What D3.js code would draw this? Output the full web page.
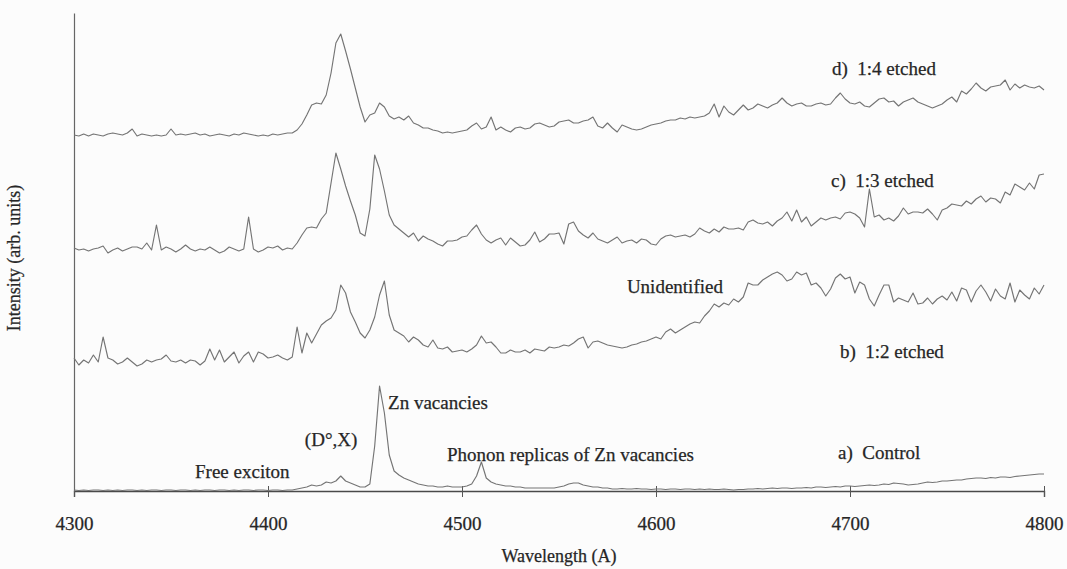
<!DOCTYPE html>
<html>
<head>
<meta charset="utf-8">
<script src="https://cdn.jsdelivr.net/npm/d3@7"></script>
<style>
  html, body { margin: 0; padding: 0; background: #fcfcfc; }
  svg { display: block; }
  text { font-family: "Liberation Serif", "DejaVu Serif", "Times New Roman", serif; fill: #262626; stroke: #262626; stroke-width: 0.25px; }
</style>
</head>
<body>
<svg id="chart" width="1067" height="569"></svg>
<script>
// Photoluminescence spectra, 4300–4800 Å, sampled every 2.5 Å.
// Curves are stacked with a vertical offset (arbitrary units).
const wlStart = 4300;
const wlStep = 2.5;
const xTicks = [4300, 4400, 4500, 4600, 4700, 4800];

// d) 1:4 etched
const etched14 = [
  356,355,357,355,357,356,355,357,358,357,
  356,358,362,355,357,356,355,356,355,356,
  362,356,357,356,357,358,356,357,355,356,
  357,356,355,357,356,358,357,356,355,356,
  355,357,356,357,358,358,361,367,376,386,
  388,387,396,418,448,457,440,422,403,384,
  369,376,378,388,384,375,372,374,371,375,
  368,366,363,363,361,360,358,359,358,359,
  360,361,365,368,362,364,374,361,364,361,
  359,363,364,362,363,367,368,366,364,365,
  369,370,371,368,368,370,371,374,365,363,
  368,363,359,366,364,362,361,362,364,366,
  367,368,370,371,371,373,372,374,373,374,
  375,378,387,374,385,379,376,381,386,381,
  383,387,385,383,386,388,393,388,385,387,
  388,385,385,387,388,386,387,393,398,392,
  388,387,389,385,384,388,392,393,389,390,
  385,389,391,393,389,387,385,383,385,387,
  391,394,389,400,397,402,408,403,400,404,
  405,406,411,401,407,403,406,404,403,405,
  401
];

// c) 1:3 etched
const etched13 = [
  243,241,242,240,242,243,245,238,241,243,
  240,242,244,244,242,248,241,266,241,244,
  242,239,242,246,242,240,242,241,244,241,
  238,240,244,242,240,242,274,242,239,241,
  244,243,245,241,243,242,248,256,263,264,
  263,272,278,308,338,322,305,290,276,258,
  255,282,336,322,300,276,266,262,258,254,
  258,250,255,252,250,247,245,250,250,251,
  254,255,261,266,257,251,248,251,253,246,
  253,249,245,246,251,259,249,252,257,257,
  258,247,267,269,260,256,253,258,252,250,
  248,251,254,248,250,251,248,252,251,247,
  246,252,255,256,254,255,256,254,257,263,
  260,258,262,259,264,262,262,263,261,269,
  271,268,267,269,265,270,273,279,270,281,
  269,274,265,269,273,271,273,274,272,278,
  279,277,273,264,302,274,276,271,273,270,
  275,283,277,279,279,278,282,277,271,281,
  283,287,286,285,290,287,292,295,289,293,
  292,288,299,296,307,304,301,308,302,316,
  317
];

// b) 1:2 etched
const etched12 = [
  133,126,131,128,136,129,154,133,131,127,
  129,133,129,125,127,131,129,131,132,136,
  130,129,131,128,131,130,126,130,142,131,
  141,129,134,139,128,135,139,129,139,137,
  133,134,136,133,131,134,164,138,158,148,
  157,166,170,173,181,206,198,179,169,158,
  153,161,174,196,210,176,161,158,155,149,
  154,151,146,144,151,143,142,144,139,140,
  141,139,142,146,155,148,149,144,138,138,
  141,139,139,141,138,142,141,140,144,143,
  144,146,145,148,152,154,143,149,150,148,
  146,145,144,143,144,146,147,149,150,152,
  154,152,159,162,158,161,164,167,169,168,
  175,180,187,184,188,186,192,189,194,208,
  206,206,211,214,217,219,216,210,212,219,
  216,218,206,208,203,195,202,213,217,212,
  214,198,209,206,192,185,196,206,206,189,
  193,191,189,198,187,188,193,187,192,195,
  191,199,190,203,201,189,200,206,199,190,
  202,195,192,208,189,201,196,192,203,197,
  206
];

// a) Control
const control = [
  1,0.5,1,0.5,1,1,0.5,1,0.5,1,
  0.5,1,1,0.5,1,0.5,1,1,0.5,1,
  1,0.5,1,1,0.5,1,0.5,1,1,0.5,
  1,1,0.5,1,0.5,1,1,0.5,1,1,
  0.5,1,1,0.5,1,1,2,3,4,6,
  5,6,9,8,10,15,10,8,6,4,
  4,7,45,105,78,36,20,16,13,11,
  9,7,6,5,5,4,4,5,4,4,
  4,5,7,15,29,13,9,7,6,5,
  5,4,4,3,3,3,3,3,3,3,
  4,5,7,8,8,6,5,4,4,3,
  3,2,2,2.5,2,2,2.5,2,2,1.5,
  2,2,1.5,2,2,1.5,2,2,1.5,2,
  1.5,2,1.5,1.5,2,1.5,1,1.5,1.5,2,
  2,2.5,2,2.5,3,2.5,3,3,2.5,3,
  3,3.5,3,4,4,3.5,4,4.5,4,5,
  5,4.5,5,5.5,6,5.5,6,7,6.5,8,
  7.5,7,6,6.5,7,8,9,8.5,9,10,
  10,10.5,11,11,12,12.5,13,13,12.5,13.5,
  13,14,14,13.5,14.5,15,15.5,16,16.5,17,
  17
];

// Curve labels and peak annotations: [text, wavelength, intensity]
const labels = [
  ["d)\u00A0\u00A01:4 etched", 4690.7, 416],
  ["c)\u00A0\u00A01:3 etched", 4690.2, 304],
  ["Unidentified", 4585, 198],
  ["b)\u00A0\u00A01:2 etched", 4694.8, 133],
  ["a)\u00A0\u00A0Control", 4693.8, 32],
  ["Zn vacancies", 4461.9, 82],
  ["(D\u00B0,X)", 4419, 45],
  ["Free exciton", 4362.4, 13],
  ["Phonon replicas of Zn vacancies", 4492.3, 30]
];

const svg = d3.select("#chart");
const x = d3.scaleLinear().domain([4300, 4800]).range([74, 1044]);
const y = d3.scaleLinear().domain([0, 478]).range([491, 13]);

const toPoints = arr => arr.map((v, i) => [wlStart + i * wlStep, v]);
const line = d3.line().x(d => x(d[0])).y(d => y(d[1]));

// axes
const xAxis = svg.append("g")
  .attr("transform", `translate(0,${y(0)})`)
  .call(d3.axisBottom(x).tickValues(xTicks).tickFormat(d3.format("d")).tickSizeOuter(0).tickSize(6));
xAxis.select(".domain").attr("stroke", "#4a4a4a").attr("stroke-width", 1.4);
xAxis.selectAll(".tick line").attr("y1", -5).attr("y2", 6).attr("stroke", "#555");
xAxis.selectAll(".tick text")
  .attr("y", 39).attr("dy", 0)
  .style("font-family", "'Liberation Serif', 'DejaVu Serif', serif")
  .style("font-size", "19px").attr("fill", "#262626");

const yAxis = svg.append("g")
  .attr("transform", `translate(${x(4300)},0)`)
  .call(d3.axisLeft(y).tickValues([]).tickSizeOuter(0));
yAxis.select(".domain").attr("stroke", "#666").attr("stroke-width", 1.2);

// spectra
[control, etched12, etched13, etched14].forEach(s => {
  svg.append("path")
    .datum(toPoints(s))
    .attr("fill", "none")
    .attr("stroke", "#747474")
    .attr("stroke-width", 1.15)
    .attr("stroke-linejoin", "round")
    .attr("d", line);
});

// annotations
svg.append("g").selectAll("text")
  .data(labels)
  .join("text")
  .attr("x", d => x(d[1]))
  .attr("y", d => y(d[2]))
  .style("font-size", "19px")
  .text(d => d[0]);

// axis titles
svg.append("text")
  .attr("x", x(4550))
  .attr("y", 562)
  .attr("text-anchor", "middle")
  .style("font-size", "18px")
  .text("Wavelength (A)");

svg.append("text")
  .attr("transform", `translate(20,${y(233)}) rotate(-90)`)
  .attr("text-anchor", "middle")
  .style("font-size", "18px")
  .text("Intensity (arb. units)");
</script>
</body>
</html>
